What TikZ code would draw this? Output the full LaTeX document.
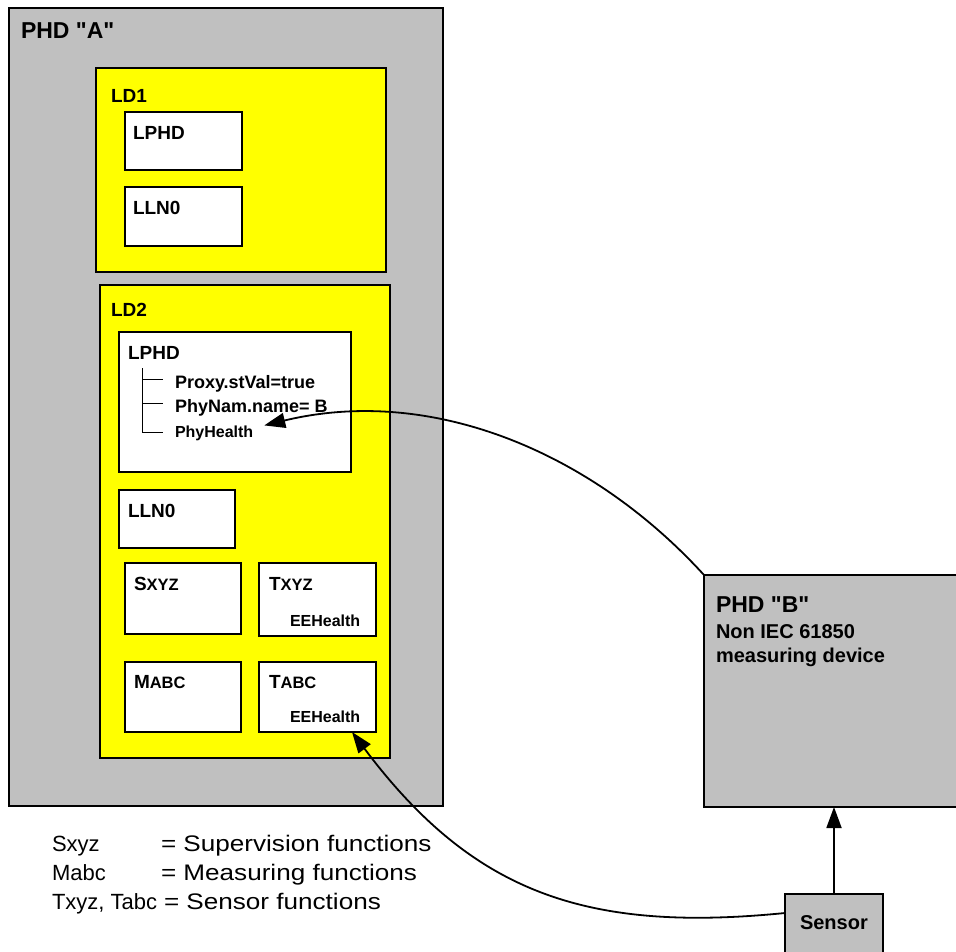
\documentclass[tikz,border=0pt]{standalone}
\usepackage{fontspec}
\setmainfont{Liberation Sans}
\newfontfamily\plainfont{Liberation Sans}
\newfontfamily\legendfont{Liberation Sans}[FakeStretch=1.16]
\usetikzlibrary{arrows.meta,calc}
\definecolor{boxgray}{HTML}{C0C0C0}
\definecolor{ldyellow}{HTML}{FFFF00}
\begin{document}
\begin{tikzpicture}[x=1pt,y=-1pt,
  rect/.style 2 args={minimum width=#1pt,minimum height=#2pt},
  box/.style={draw=black,line width=2pt,anchor=north west,inner sep=0pt,outer sep=0pt},
  graybox/.style={box,fill=boxgray},
  ybox/.style={box,fill=ldyellow},
  wbox/.style={box,fill=white},
  txt/.style={anchor=base west,inner sep=0pt,outer sep=0pt},
  big/.style={txt,font=\plainfont\bfseries\fontsize{23}{26}\selectfont},
  ttl/.style={txt,font=\bfseries\fontsize{19}{22}\selectfont},
  item/.style={txt,font=\bfseries\fontsize{18}{21}\selectfont},
  small/.style={txt,font=\bfseries\fontsize{16}{19}\selectfont},
  desc/.style={txt,font=\bfseries\fontsize{20}{23}\selectfont},
  legend/.style={txt,font=\fontsize{22}{26}\selectfont},
  legendw/.style={txt,font=\legendfont\fontsize{22.5}{26}\selectfont},
  tree/.style={line width=1pt},
  conn/.style={line width=1.8pt,-{Triangle[length=21pt,width=15pt]}}
]
\useasboundingbox (0,0) rectangle (956,951);

% PHD A
\node[graybox,rect={434}{798}] (phdA) at (9,8) {};
\node[big] (phdAlbl) at (21,38) {PHD "A"};

% LD1
\node[ybox,rect={290}{204}] (ld1) at (96,68) {};
\node[ttl] (ld1lbl) at (111,102) {LD1};
\node[wbox,rect={117}{58}] (lphd1) at (125,112) {};
\node[ttl] (lphd1lbl) at (133,139) {LPHD};
\node[wbox,rect={117}{59}] (lln01) at (125,187) {};
\node[ttl] (lln01lbl) at (133,214) {LLN0};

% LD2
\node[ybox,rect={290}{473}] (ld2) at (100,285) {};
\node[ttl] (ld2lbl) at (111,316) {LD2};
\node[wbox,rect={232}{140}] (lphd2) at (119,332) {};
\node[ttl] (lphd2lbl) at (128,359) {LPHD};
\draw[tree] (142,368) -- (142,432) -- (163,432);
\draw[tree] (142,379) -- (163,379);
\draw[tree] (142,403) -- (163,403);
\node[item] (proxy) at (175,388) {Proxy.stVal=true};
\node[item] (phynam) at (175,412) {PhyNam.name= B};
\node[small] (phyhealth) at (175,437) {PhyHealth};

\node[wbox,rect={116}{58}] (lln02) at (119,490) {};
\node[ttl] (lln02lbl) at (128,517) {LLN0};

\node[wbox,rect={116}{71}] (sxyz) at (125,563) {};
\node[ttl] (sxyzlbl) at (134,590) {S{\fontsize{16.5}{18}\selectfont XYZ}};
\node[wbox,rect={117}{73}] (txyz) at (259,563) {};
\node[ttl] (txyzlbl) at (269,590) {T{\fontsize{16.5}{18}\selectfont XYZ}};
\node[small] (txyzee) at (290,626) {EEHealth};
\node[wbox,rect={116}{70}] (mabc) at (125,662) {};
\node[ttl] (mabclbl) at (134,688) {M{\fontsize{16.5}{18}\selectfont ABC}};
\node[wbox,rect={117}{70}] (tabc) at (259,662) {};
\node[ttl] (tabclbl) at (269,688) {T{\fontsize{16.5}{18}\selectfont ABC}};
\node[small] (tabcee) at (290,722) {EEHealth};

% PHD B
\node[graybox,rect={270}{232}] (phdB) at (704,575) {};
\node[big] (phdBlbl) at (716,612) {PHD "B"};
\node[desc] (phdBd1) at (716,638) {Non IEC 61850};
\node[desc] (phdBd2) at (716,662) {measuring device};

% Sensor
\node[graybox,rect={98}{80}] (sensor) at (785,894) {};
\node[desc] (sensorlbl) at (800,929) {Sensor};

% Legend
\node[legend] (lg1a) at (52,851) {Sxyz};
\node[legendw] (lg1b) at (161,851) {= Supervision functions};
\node[legend] (lg2a) at (52,880) {Mabc};
\node[legendw] (lg2b) at (161,880) {= Measuring functions};
\node[legend] (lg3a) at (52,909) {Txyz, Tabc};
\node[legendw] (lg3b) at (164,909) {= Sensor functions};

% Connectors
\draw[conn] (sensor.north) -- (sensor.north |- phdB.south);
\draw[conn] (phdB.north west) .. controls +(-114,-125) and +(165,-40) .. ([xshift=11pt]phyhealth.north east);
\draw[conn] ([yshift=-19pt]sensor.north west) .. controls +(-200,20) and +(120,160) .. ([xshift=-24pt]tabc.south east);
\end{tikzpicture}
\end{document}
